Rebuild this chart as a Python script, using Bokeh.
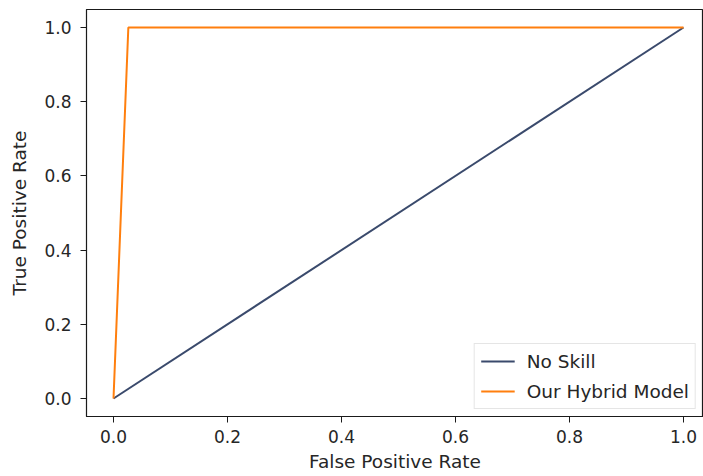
from bokeh.plotting import figure
from bokeh.models import FixedTicker, Range1d, Legend, LegendItem
from bokeh.embed import file_html
from bokeh.resources import INLINE

# data
no_skill_fpr = [0.0, 1.0]
no_skill_tpr = [0.0, 1.0]
model_fpr = [0.0, 0.026, 1.0]
model_tpr = [0.0, 1.0, 1.0]
tick_values = [0.0, 0.2, 0.4, 0.6, 0.8, 1.0]
tick_labels = ["0.0", "0.2", "0.4", "0.6", "0.8", "1.0"]

FONT = "DejaVu Sans"
TXT = "#262626"

p = figure(width=703, height=474, output_backend="svg", toolbar_location=None,
           x_range=Range1d(-0.0474, 1.0351), y_range=Range1d(-0.0485, 1.0485),
           min_border_left=86, min_border_right=0, min_border_top=9, min_border_bottom=58)

p.xgrid.visible = False
p.ygrid.visible = False
p.outline_line_color = "#1a1a1a"
p.outline_line_width = 1.2
p.background_fill_color = "white"

r1 = p.line(no_skill_fpr, no_skill_tpr, line_color="#3a4a6c", line_width=2)
r2 = p.line(model_fpr, model_tpr, line_color="#ff7f0e", line_width=2)

for ax in (p.xaxis[0], p.yaxis[0]):
    ax.ticker = FixedTicker(ticks=tick_values)
    ax.major_label_overrides = {v: l for v, l in zip(tick_values, tick_labels)}
    ax.minor_tick_line_color = None
    ax.major_tick_out = 6
    ax.major_tick_in = 0
    ax.major_tick_line_color = "#1a1a1a"
    ax.axis_line_color = "#1a1a1a"
    ax.major_label_text_font = FONT
    ax.major_label_text_font_size = "17px"
    ax.major_label_text_color = TXT
    ax.axis_label_text_font = FONT
    ax.axis_label_text_font_size = "18.5px"
    ax.axis_label_text_font_style = "normal"
    ax.axis_label_text_color = TXT

p.xaxis[0].axis_label = "False Positive Rate"
p.yaxis[0].axis_label = "True Positive Rate"
p.xaxis[0].major_label_standoff = 7
p.yaxis[0].major_label_standoff = 9
p.xaxis[0].axis_label_standoff = 5
p.yaxis[0].axis_label_standoff = 11

legend = Legend(items=[LegendItem(label="No Skill", renderers=[r1]),
                       LegendItem(label="Our Hybrid Model", renderers=[r2])],
                location="bottom_right")
legend.label_text_font = FONT
legend.label_text_font_size = "18.5px"
legend.label_text_color = TXT
legend.glyph_width = 34
legend.glyph_height = 22
legend.label_height = 22
legend.label_standoff = 12
legend.spacing = 8
legend.padding = 6
legend.margin = 7
legend.border_line_color = "#cccccc"
legend.border_line_width = 1
legend.background_fill_alpha = 0.8
p.add_layout(legend)

open("out.html", "w").write(file_html(p, INLINE))
